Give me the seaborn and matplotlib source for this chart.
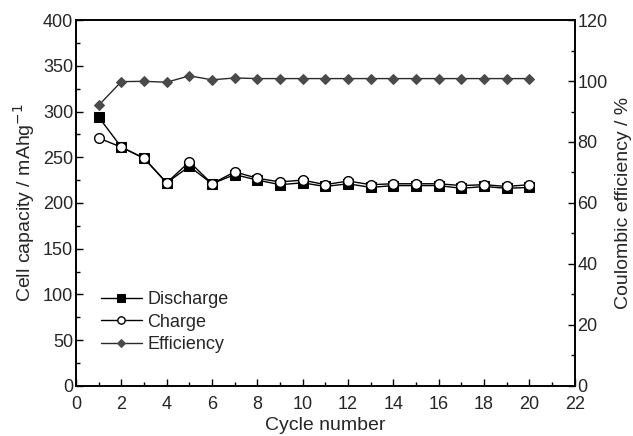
import matplotlib
matplotlib.use("Agg")
import matplotlib.pyplot as plt
import seaborn as sns
import pandas as pd

cycles = list(range(1, 21))
discharge = [294, 261, 249, 222, 240, 221, 231, 225, 220, 222, 218, 221, 217, 219, 219, 219, 216, 218, 216, 217]
charge = [271, 261, 249, 222, 245, 221, 234, 227, 223, 225, 220, 224, 220, 221, 221, 221, 219, 220, 218, 220]
efficiency = [92, 99.8, 99.9, 99.6, 101.7, 100.4, 101.0, 100.8, 100.8, 100.8, 100.8, 100.8, 100.8, 100.8, 100.8, 100.8, 100.8, 100.8, 100.8, 100.8]

df = pd.DataFrame({"cycle": cycles, "discharge": discharge, "charge": charge, "efficiency": efficiency})

sns.set_style("ticks")
plt.rcParams['font.family'] = ['Liberation Sans', 'DejaVu Sans']
plt.rcParams['xtick.direction'] = 'in'
plt.rcParams['ytick.direction'] = 'in'

fig, ax = plt.subplots(figsize=(6.33, 4.36), dpi=100)
fig.subplots_adjust(left=0.120, right=0.908, top=0.954, bottom=0.115)
ax2 = ax.twinx()

sns.lineplot(data=df, x="cycle", y="discharge", ax=ax, color="black", lw=1.0, marker="s", ms=7,
             mfc="black", mec="black", label="Discharge", legend=False)
sns.lineplot(data=df, x="cycle", y="charge", ax=ax, color="black", lw=1.0, marker="o", ms=7,
             mfc="white", mec="black", mew=1.0, label="Charge", legend=False)
sns.lineplot(data=df, x="cycle", y="efficiency", ax=ax2, color="#2a2a2a", lw=1.0, marker="D", ms=5.5,
             mfc="#4a4a4a", mec="#4a4a4a", label="Efficiency", legend=False)

ax.set_xlim(0, 22)
ax.set_ylim(0, 400)
ax2.set_ylim(0, 120)
ax.set_xticks(range(0, 23, 2))
ax.set_xticks(range(0, 23, 1), minor=True)
ax.set_yticks(range(0, 401, 50))
ax.set_yticks(range(0, 401, 25), minor=True)
ax2.set_yticks(range(0, 121, 20))
ax2.set_yticks(range(0, 121, 10), minor=True)

for a in (ax, ax2):
    a.tick_params(which='major', length=5, width=1, labelsize=13, color='black', pad=2)
    a.tick_params(which='minor', length=3, width=1, color='black')
    for s in a.spines.values():
        s.set_linewidth(1.2)
        s.set_color('black')
ax.tick_params(axis='x', which='both', top=False, pad=7)

ax.set_xlabel("Cycle number", fontsize=14, labelpad=3)
ax.set_ylabel("Cell capacity / mAhg$^{-1}$", fontsize=14, labelpad=4)
ax2.set_ylabel("Coulombic efficiency / %", fontsize=14, labelpad=5)

h1, l1 = ax.get_legend_handles_labels()
h2, l2 = ax2.get_legend_handles_labels()
leg = ax.legend(handles=h1 + h2, labels=l1 + l2, loc='lower left', bbox_to_anchor=(0.035, 0.07),
                frameon=False, fontsize=13, handlelength=2.3, handletextpad=0.3,
                labelspacing=0.3, markerscale=0.75, borderaxespad=0)

fig.savefig("out.png", dpi=100)
